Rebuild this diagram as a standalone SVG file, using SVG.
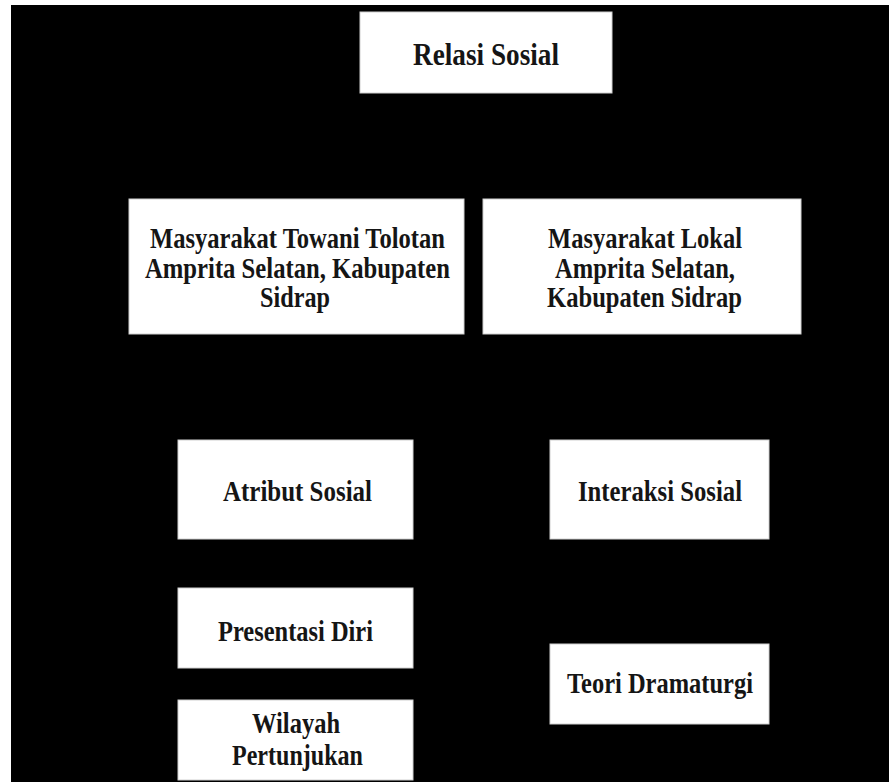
<svg xmlns="http://www.w3.org/2000/svg" width="889" height="782" viewBox="0 0 889 782">
<style>
.box{fill:#ffffff;stroke:#d0d0d0;stroke-width:1}
.t{font-family:"Liberation Serif","Times New Roman",serif;font-weight:bold;font-size:29px;fill:#151515}
.big{font-size:31px}
</style>
<rect x="0" y="0" width="889" height="782" fill="#ffffff"/>
<rect x="11" y="5" width="878" height="777" fill="#000000"/>
<g id="connectors"></g>
<g id="relasi-sosial">
<rect class="box" x="360" y="12" width="252" height="81"/>
<text class="t big" x="413" y="65" textLength="146" lengthAdjust="spacingAndGlyphs">Relasi Sosial</text>
</g>
<g id="masyarakat-towani">
<rect class="box" x="129" y="199" width="335" height="135"/>
<text class="t" x="150" y="248" textLength="295" lengthAdjust="spacingAndGlyphs">Masyarakat Towani Tolotan</text>
<text class="t" x="145" y="278" textLength="305" lengthAdjust="spacingAndGlyphs">Amprita Selatan, Kabupaten</text>
<text class="t" x="260" y="307" textLength="70" lengthAdjust="spacingAndGlyphs">Sidrap</text>
</g>
<g id="masyarakat-lokal">
<rect class="box" x="483" y="199" width="318" height="135"/>
<text class="t" x="548" y="248" textLength="194" lengthAdjust="spacingAndGlyphs">Masyarakat Lokal</text>
<text class="t" x="555" y="278" textLength="180" lengthAdjust="spacingAndGlyphs">Amprita Selatan,</text>
<text class="t" x="547" y="307" textLength="195" lengthAdjust="spacingAndGlyphs">Kabupaten Sidrap</text>
</g>
<g id="atribut-sosial">
<rect class="box" x="178" y="440" width="235" height="99"/>
<text class="t" x="223" y="501" textLength="149" lengthAdjust="spacingAndGlyphs">Atribut Sosial</text>
</g>
<g id="interaksi-sosial">
<rect class="box" x="550" y="440" width="219" height="99"/>
<text class="t" x="578" y="501" textLength="164" lengthAdjust="spacingAndGlyphs">Interaksi Sosial</text>
</g>
<g id="presentasi-diri">
<rect class="box" x="178" y="588" width="235" height="80"/>
<text class="t" x="218" y="641" textLength="155" lengthAdjust="spacingAndGlyphs">Presentasi Diri</text>
</g>
<g id="wilayah-pertunjukan">
<rect class="box" x="178" y="700" width="235" height="80"/>
<text class="t" x="252" y="733" textLength="88" lengthAdjust="spacingAndGlyphs">Wilayah</text>
<text class="t" x="232" y="765" textLength="131" lengthAdjust="spacingAndGlyphs">Pertunjukan</text>
</g>
<g id="teori-dramaturgi">
<rect class="box" x="550" y="644" width="219" height="80"/>
<text class="t" x="567" y="693" textLength="186" lengthAdjust="spacingAndGlyphs">Teori Dramaturgi</text>
</g>
</svg>
